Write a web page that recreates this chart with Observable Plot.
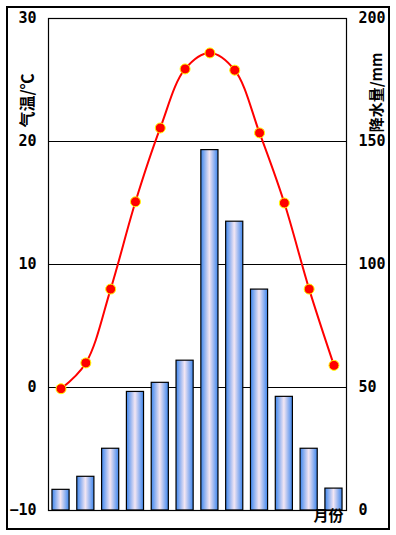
<!DOCTYPE html>
<html>
<head>
<meta charset="utf-8">
<script src="https://cdn.jsdelivr.net/npm/d3@7"></script>
<script src="https://cdn.jsdelivr.net/npm/@observablehq/plot@0.6"></script>
<style>
  html, body { margin: 0; padding: 0; background: #fff; }
  #wrap { position: relative; width: 396px; height: 535px; }
  #border { position: absolute; left: 6px; top: 6px; width: 380px; height: 520px; border: 2px solid #000; pointer-events: none; }
</style>
</head>
<body>
<div id="wrap"><div id="border"></div></div>
<script>
const months = [1,2,3,4,5,6,7,8,9,10,11,12];
const temperature = [-0.1, 2.0, 8.0, 15.1, 21.1, 25.9, 27.2, 25.8, 20.7, 15.0, 8.0, 1.8];
const precipitation = [8.4, 13.7, 25.1, 48.2, 51.9, 60.9, 146.5, 117.4, 89.8, 46.2, 25.1, 8.9];
const tempTicks = [-10, 0, 10, 20, 30];
const precipTicks = [0, 50, 100, 150, 200];
const gridTemps = [0, 10, 20];
const tempTitle = "气温/℃";
const precipTitle = "降水量/mm";
const xTitle = "月份";

// precipitation axis maps 0..200 mm onto -10..30 °C
const p2t = p => p / 5 - 10;

const data = months.map((m, i) => ({month: m, t: temperature[i], p: precipitation[i]}));

const tickFont = {fontFamily: "DejaVu Sans Mono", fontSize: 15, fontWeight: "bold"};

const defs = () => {
  const d = d3.create("svg:defs");
  const g = d.append("linearGradient").attr("id", "barGrad").attr("x1", "0").attr("x2", "1").attr("y1", "0").attr("y2", "0");
  g.append("stop").attr("offset", "0%").attr("stop-color", "#3d86ee");
  g.append("stop").attr("offset", "50%").attr("stop-color", "#f3e6f3");
  g.append("stop").attr("offset", "100%").attr("stop-color", "#3d86ee");
  return d.node();
};

const chart = Plot.plot({
  width: 396,
  height: 535,
  marginLeft: 48,
  marginRight: 50,
  marginTop: 18,
  marginBottom: 25,
  style: {background: "transparent", overflow: "visible"},
  x: {type: "band", domain: months, paddingInner: 0.31, paddingOuter: 0.16, round: false, axis: null},
  y: {domain: [-10, 30], axis: null},
  marks: [
    defs,
    Plot.ruleY(gridTemps, {stroke: "#000", strokeWidth: 1, strokeOpacity: 1}),
    Plot.barY(data, {x: "month", y1: -10, y2: d => p2t(d.p), fill: "url(#barGrad)", stroke: "#000", strokeWidth: 1.2}),
    Plot.line(data, {x: "month", y: "t", stroke: "#ff0000", strokeWidth: 2, curve: "catmull-rom"}),
    Plot.dot(data, {x: "month", y: "t", r: 5, fill: "#ff0000", stroke: "#ffff00", strokeWidth: 1}),
    Plot.frame({stroke: "#000", strokeWidth: 1.2}),
    Plot.axisY(tempTicks, {anchor: "left", tickSize: 0, tickPadding: 12, label: null, tickFormat: d => d < 0 ? "−" + Math.abs(d) : String(d), ...tickFont, fill: "#000"}),
    Plot.axisY(precipTicks.map(p2t), {anchor: "right", tickSize: 0, tickPadding: 12, label: null, tickFormat: (d, i) => String(precipTicks[i]), ...tickFont, fill: "#000"}),
    Plot.text([tempTitle], {frameAnchor: "top-left", dx: -21, dy: 82, rotate: -90, textAnchor: "middle", lineAnchor: "middle", fontSize: 16, fontWeight: "bold", fontFamily: "Noto Sans CJK SC", fill: "#000"}),
    Plot.text([precipTitle], {frameAnchor: "top-right", dx: 31, dy: 74, rotate: -90, textAnchor: "middle", lineAnchor: "middle", fontSize: 15, fontWeight: "bold", fontFamily: "Noto Sans CJK SC", fill: "#000"}),
    Plot.text([xTitle], {frameAnchor: "bottom-right", dx: -18, dy: 6, textAnchor: "middle", lineAnchor: "middle", fontSize: 15, fontWeight: "bold", fontFamily: "Noto Sans CJK SC", fill: "#000"})
  ]
});
chart.style.position = "absolute";
chart.style.left = "0";
chart.style.top = "0";
document.getElementById("wrap").appendChild(chart);
</script>
</body>
</html>
